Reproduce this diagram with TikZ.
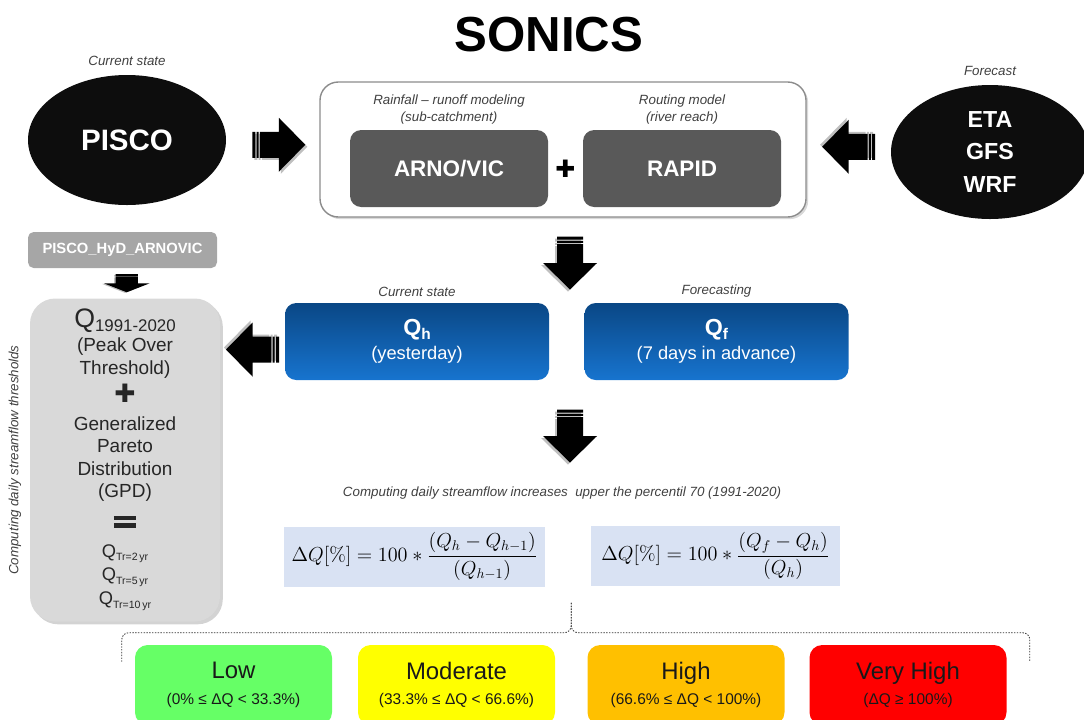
\documentclass[tikz,border=0pt]{standalone}
\usepackage[no-math]{fontspec}
\setmainfont{Liberation Sans}
\newfontfamily\dejavu{DejaVu Sans}
\usetikzlibrary{positioning, calc, shapes.geometric, shadows}

\definecolor{inkblack}{HTML}{0D0D0D}
\definecolor{modgray}{HTML}{595959}
\definecolor{framegray}{HTML}{8C8C8C}
\definecolor{hydgray}{HTML}{A6A6A6}
\definecolor{thrgray}{HTML}{D9D9D9}
\definecolor{qtop}{HTML}{0A4785}
\definecolor{qbot}{HTML}{1774CF}
\definecolor{eqblue}{HTML}{D9E2F3}
\definecolor{lowgreen}{HTML}{66FF66}
\definecolor{modyellow}{HTML}{FFFF00}
\definecolor{highorange}{HTML}{FFC000}
\definecolor{vhighred}{HTML}{FF0000}
\definecolor{notegray}{HTML}{404040}

\def\pxu{0.025cm}
\newcommand{\heavyeq}{\vbox{\hrule width 16pt height 3pt\vskip 2.5pt\hrule width 16pt height 3pt}}
\newcommand{\qsub}[3]{{\fontsize{#1}{#1}\selectfont Q}\raisebox{-0.2em}{\fontsize{#2}{#2}\selectfont #3}}

\tikzset{
  fatarrow/.pic={
    \foreach \off/\col in {2/black!25, 0/black} {
      \fill[\col, shift={(\off,\off)}] (-26.5,-13) rectangle (-23.5,13)
        (-22.2,-13) rectangle (-20.2,13)
        (-18.8,-13) -- (0,-13) -- (0,-27) -- (26.5,0) -- (0,27) -- (0,13) -- (-18.8,13) -- cycle;
    }
  }
}

\begin{document}
\begin{tikzpicture}[x=0.025cm, y=-0.025cm,
    note/.style={font=\itshape\fontsize{9.5}{11.5}\selectfont, text=notegray, align=center, inner sep=1pt},
    blob/.style={ellipse, fill=inkblack, text=white, inner sep=0pt, align=center},
    modbox/.style={rounded corners=8pt, fill=modgray, text=white, minimum width=198*\pxu,
      minimum height=77*\pxu, font=\bfseries\fontsize{16}{19}\selectfont},
    qbox/.style={rounded corners=8pt, top color=qtop, bottom color=qbot, text=white, align=center,
      minimum width=264*\pxu, minimum height=77*\pxu, font=\fontsize{13}{17}\selectfont},
    eqbox/.style={fill=eqblue, minimum height=60*\pxu, font=\fontsize{14.5}{16}\selectfont},
    level/.style={rounded corners=9pt, align=center, minimum width=197*\pxu, minimum height=80*\pxu,
      text=black!90, font=\fontsize{17}{20}\selectfont}]
\useasboundingbox (0,0) rectangle (1084,719);
\clip (0,0) rectangle (1084,719);

\node[font=\bfseries\fontsize{35}{40}\selectfont] (title) at (549,35) {SONICS};

% inputs and model chain
\node[blob, minimum width=198*\pxu, minimum height=130*\pxu, font=\bfseries\fontsize{21}{24}\selectfont]
  (pisco) at (127,140) {PISCO};
\node[note, above=5pt of pisco] {Current state};
\node[blob, minimum width=198*\pxu, minimum height=134*\pxu, font=\bfseries\fontsize{16.5}{23.4}\selectfont]
  (nwp) at (990,152) {ETA\\GFS\\WRF};
\node[note, above=5pt of nwp] {Forecast};

\node[draw=framegray, line width=1pt, fill=white, rounded corners=13pt, minimum width=486*\pxu,
  minimum height=135*\pxu, drop shadow={opacity=.3, shadow xshift=1.5pt, shadow yshift=-1.5pt}]
  (model) at (563,149.5) {};
\node[modbox] (arno) at (449,168.5) {ARNO/VIC};
\node[modbox] (rapid) at (682,168.5) {RAPID};
\node[font=\dejavu\fontsize{17}{17}\selectfont] (plus) at ($(arno.east)!0.5!(rapid.west)$) {✚};
\node[note, above=3pt of arno] {Rainfall -- runoff modeling\\(sub-catchment)};
\node[note, above=3pt of rapid] {Routing model\\(river reach)};

\pic at ($(pisco.east)!0.5!(model.west)+(6,0)$) {fatarrow};
\pic[rotate=180] at ($(model.east)!0.5!(nwp.west)+(0,-4)$) {fatarrow};
\pic[rotate=-90] at (570,263) {fatarrow};

% thresholds
\node[fill=hydgray, rounded corners=4pt, text=white, minimum width=189*\pxu, minimum height=36*\pxu,
  font=\bfseries\fontsize{10.5}{12}\selectfont] (hyd) at (122.5,250) {PISCO\_HyD\_ARNOVIC};
\node[fill=thrgray, rounded corners=18pt, minimum width=190*\pxu, minimum height=323*\pxu,
  text=black!85, align=center, font=\fontsize{13.5}{16}\selectfont,
  drop shadow={opacity=.35, shadow xshift=2pt, shadow yshift=-2pt}] (thr) at (125,460) {%
  \qsub{19}{12}{1991-2020}\\[1pt]
  (Peak Over\\
  Threshold)\\[4pt]
  {\dejavu\fontsize{18}{18}\selectfont ✚}\\[4pt]
  Generalized\\
  Pareto\\
  Distribution\\
  (GPD)\\[5pt]
  \heavyeq\\[5pt]
  \qsub{13}{7.5}{Tr=2\,yr}\\[1pt]
  \qsub{13}{7.5}{Tr=5\,yr}\\[1pt]
  \qsub{13}{7.5}{Tr=10\,yr}};
\node[note, rotate=90] at (15,460) {Computing daily streamflow thresholds};
\pic[rotate=-90, xscale=.34, yscale=.85] at ($(hyd.south)!0.5!(thr.north)+(3,0)$) {fatarrow};

% simulated streamflow
\node[qbox] (qh) at (417,341.5) {{\bfseries\qsub{16.5}{11}{h}}\\(yesterday)};
\node[note, above=3pt of qh] {Current state};
\node[qbox] (qf) at (716.5,341.5) {{\bfseries\qsub{16.5}{11}{f}}\\(7 days in advance)};
\node[note, above=3pt of qf] {Forecasting};
\pic[rotate=180] at ($(thr.east |- qh.west)!0.5!(qh.west)+(0,8)$) {fatarrow};
\pic[rotate=-90] at (570,436) {fatarrow};

% increases
\node[note] (incr) at (562,493) {Computing daily streamflow increases \ upper the percentil 70 (1991-2020)};
\node[eqbox, minimum width=261*\pxu] (fh) at (414.5,556.5)
  {$\Delta Q[\%] = 100 * \displaystyle\frac{(Q_h - Q_{h-1})}{(Q_{h-1})}$};
\node[eqbox, minimum width=249*\pxu] (ff) at (715.5,556)
  {$\Delta Q[\%] = 100 * \displaystyle\frac{\left(Q_f - Q_h\right)}{(Q_h)}$};

% alert levels
\node[level, fill=lowgreen] (low) at (233.5,685) {Low\\[-2pt]{\fontsize{11}{13}\selectfont (0\% ≤ ΔQ < 33.3\%)}};
\node[level, fill=modyellow] (mod) at (456.5,685) {Moderate\\[-2pt]{\fontsize{11}{13}\selectfont (33.3\% ≤ ΔQ < 66.6\%)}};
\node[level, fill=highorange] (high) at (686,685) {High\\[-2pt]{\fontsize{11}{13}\selectfont (66.6\% ≤ ΔQ < 100\%)}};
\node[level, fill=vhighred] (vhigh) at (908,685) {Very High\\[-2pt]{\fontsize{11}{13}\selectfont (ΔQ ≥ 100\%)}};

\coordinate (brtip) at ($(mod.north east)!0.5!(high.north west)+(0,-42)$);
\draw[dash pattern=on 1pt off 1pt, black!80, line width=.6pt, rounded corners=5pt]
  ($(low.north west)+(-13,17)$) |- ($(brtip)+(0,30)$) -- (brtip);
\draw[dash pattern=on 1pt off 1pt, black!80, line width=.6pt, rounded corners=5pt]
  (brtip) -- ($(brtip)+(0,30)$) -| ($(vhigh.north east)+(23,17)$);
\end{tikzpicture}
\end{document}
